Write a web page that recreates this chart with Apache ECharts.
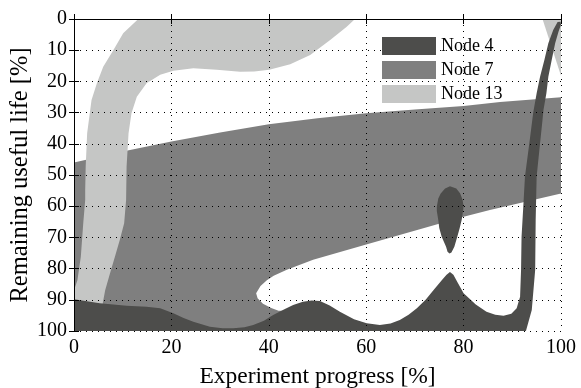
<!DOCTYPE html>
<html>
<head>
<meta charset="utf-8">
<script src="https://cdn.jsdelivr.net/npm/echarts@6/dist/echarts.min.js"></script>
<style>html,body{margin:0;padding:0;background:#fff}#c{width:581px;height:388px}</style>
</head>
<body>
<div id="c"></div>
<script>
// ---- Data (x = experiment progress %, y = remaining useful life %) ----
var seriesNames = ['Node 4', 'Node 7', 'Node 13'];
var xTicks = [0, 20, 40, 60, 80, 100];
var yTicks = [0, 10, 20, 30, 40, 50, 60, 70, 80, 90, 100];

var node7Region = [
  [0,46],[10,42.5],[20,39.3],[30,36.4],[40,33.7],[50,31.8],[60,30.2],[70,29],[80,27.9],[87.5,26.6],[100,25.1],
  [100,55.9],[85.4,61.2],[80,63.4],[71,67.4],[60,72.3],[49.1,77.2],[43.7,80.4],[41,82.3],[39.6,83.7],[38.3,85.6],
  [37.4,87.9],[37.7,89.5],[38.8,91.3],[40.5,92.6],[42,93.5],[44,93.5],[44,100],[0,100]
];

var node13Band = [
  [5.8,92],[6.4,86.9],[7.4,81.5],[8.4,76.2],[9.4,70.8],[10.3,65.5],[10.7,58],[10.8,47.3],[11.2,36.6],[11.8,30.2],
  [12.9,24.9],[14.9,20.6],[17.7,17.9],[20.4,16.6],[24.5,15.8],[29.3,16.3],[34.1,16.9],[37,16.8],[40.1,16.3],
  [44.4,14.5],[48.5,11.5],[52.6,6.7],[56,2.5],[57.7,0],
  [13.2,0],[10.1,4.6],[8.1,9.9],[6,15.3],[4.7,20.6],[3.6,26],[2.7,36.6],[2.4,47.3],[2.3,54.8],[2.3,58],
  [1.9,65.5],[1.4,76.2],[0.7,83.7],[0,86.9],[0,92]
];
var node13Corner = [[96.2,0],[100,0],[100,18.2]];

var node4Main = [
  [0,100],[0,89.8],[5.3,91.1],[10.8,91.9],[14.9,92.2],[17.7,92.7],[20.4,94.3],[22.5,95.8],[24.5,97],[27.9,98.6],
  [30.5,99.1],[32.7,99.1],[35,98.8],[36.8,98.1],[39,96.7],[40.9,94.9],[43,93.2],[45,91.7],[47,90.6],[48.8,90.2],
  [50.5,90.4],[52.5,91.8],[54.6,93.8],[57.5,96.2],[60.1,97.5],[62.8,98.1],[65,97.6],[66.9,96.5],[68.7,94.8],
  [70.4,92.7],[72.2,90],[73.8,86.9],[75.6,83.6],[76.5,82],[77.2,81.1],[77.9,82],[78.8,84.5],[80,87.9],[82.5,91.5],
  [84.7,93.8],[86.5,94.8],[88.2,95.1],[89.8,94.5],[90.9,92.7],[91.6,89],[91.8,80.4],[91.9,69.8],[92.3,59],
  [92.6,50.5],[93.5,39.8],[94.3,30],[95,23.8],[95.7,18.5],[96.6,13.1],[97.4,7.8],[98.4,3.5],[99.3,1.0],[99.9,0.9],
  [100,1.8],[99.5,4],[98.8,7.8],[98.1,13.1],[97.4,18.5],[97,23.8],[96.4,29.2],[96.2,32.4],[95.7,39.8],[95,50.5],
  [94.8,64.4],[94.7,80.4],[94,93.3],[92.8,100]
];
var node4Island = [
  [77.2,53.6],[78.5,54.3],[79.3,55.9],[79.8,58],[80,60.2],[79.8,62.5],[79.6,64.4],[79.2,67],[78.7,69.8],[78.1,73],
  [77.5,74.8],[77.1,75.2],[76.7,74.6],[76.4,73],[75.5,69.8],[75,67],[74.8,64.4],[74.5,61.5],[74.5,60.2],[74.8,57.5],
  [75.3,55.9],[76.2,54.3]
];

var colors = {'Node 4': '#4d4d4b', 'Node 7': '#7f7f7f', 'Node 13': '#c5c6c5'};
var FONT = 'Liberation Serif';

function polySeries(name, polys, z) {
  var color = colors[name];
  return {
    type: 'custom', name: name, coordinateSystem: 'cartesian2d',
    xAxisIndex: 0, yAxisIndex: 0, z: z,
    itemStyle: {color: color},
    data: polys.map(function (p, i) { return [p[0][0], p[0][1], i]; }),
    encode: {x: 0, y: 1},
    silent: true, animation: false,
    renderItem: function (params, api) {
      var pts = polys[params.dataIndex].map(function (p) { return api.coord(p); });
      return {type: 'polygon', shape: {points: pts}, style: {fill: color, stroke: null}};
    }
  };
}

var chart = echarts.init(document.getElementById('c'), null, {renderer: 'canvas'});
var axisLine = {show: true, lineStyle: {color: '#000', width: 1}};
var split = {show: true, lineStyle: {color: '#000', width: 1, type: [1, 5]}};
chart.setOption({
  animation: false,
  backgroundColor: '#fff',
  grid: {left: 74, right: 20, top: 19, bottom: 57, containLabel: false, outerBoundsMode: 'none'},
  legend: {
    orient: 'vertical', left: 382, top: 37, padding: 0, itemGap: 6,
    itemWidth: 54, itemHeight: 18, icon: 'rect',
    textStyle: {fontFamily: FONT, fontSize: 18, color: '#000', padding: [0, 0, 0, 0]},
    data: seriesNames.map(function (n) { return {name: n, itemStyle: {color: colors[n]}}; })
  },
  xAxis: [{
    type: 'value', min: 0, max: 100, interval: 20, position: 'bottom', z: 3,
    name: 'Experiment progress [%]', nameLocation: 'middle', nameGap: 34, nameMoveOverlap: false,
    nameTextStyle: {fontFamily: FONT, fontSize: 23.5, color: '#000'},
    axisLine: axisLine, axisTick: {show: true, inside: true, length: 5, lineStyle: {color: '#000'}},
    axisLabel: {fontFamily: FONT, fontSize: 20, color: '#000', margin: 7,
      formatter: function (v) { return xTicks.indexOf(v) >= 0 ? String(v) : ''; }},
    splitLine: split
  }, {
    type: 'value', min: 0, max: 100, interval: 20, position: 'top', z: 3,
    axisLine: axisLine, axisTick: {show: true, inside: true, length: 5, lineStyle: {color: '#000'}},
    axisLabel: {show: false}, splitLine: {show: false}
  }],
  yAxis: [{
    type: 'value', min: 0, max: 100, interval: 10, inverse: true, position: 'left', z: 3,
    name: 'Remaining useful life [%]', nameLocation: 'middle', nameGap: 41, nameMoveOverlap: false,
    nameTextStyle: {fontFamily: FONT, fontSize: 24.5, color: '#000'},
    axisLine: axisLine, axisTick: {show: true, inside: true, length: 5, lineStyle: {color: '#000'}},
    axisLabel: {fontFamily: FONT, fontSize: 20, color: '#000', margin: 7,
      formatter: function (v) { return yTicks.indexOf(v) >= 0 ? String(v) : ''; }},
    splitLine: split
  }, {
    type: 'value', min: 0, max: 100, interval: 10, inverse: true, position: 'right', z: 3,
    axisLine: axisLine, axisTick: {show: true, inside: true, length: 5, lineStyle: {color: '#000'}},
    axisLabel: {show: false}, splitLine: {show: false}
  }],
  series: [
    polySeries('Node 7', [node7Region], 1),
    polySeries('Node 13', [node13Band, node13Corner], 1.5),
    polySeries('Node 4', [node4Main, node4Island], 2)
  ]
});
</script>
</body>
</html>
